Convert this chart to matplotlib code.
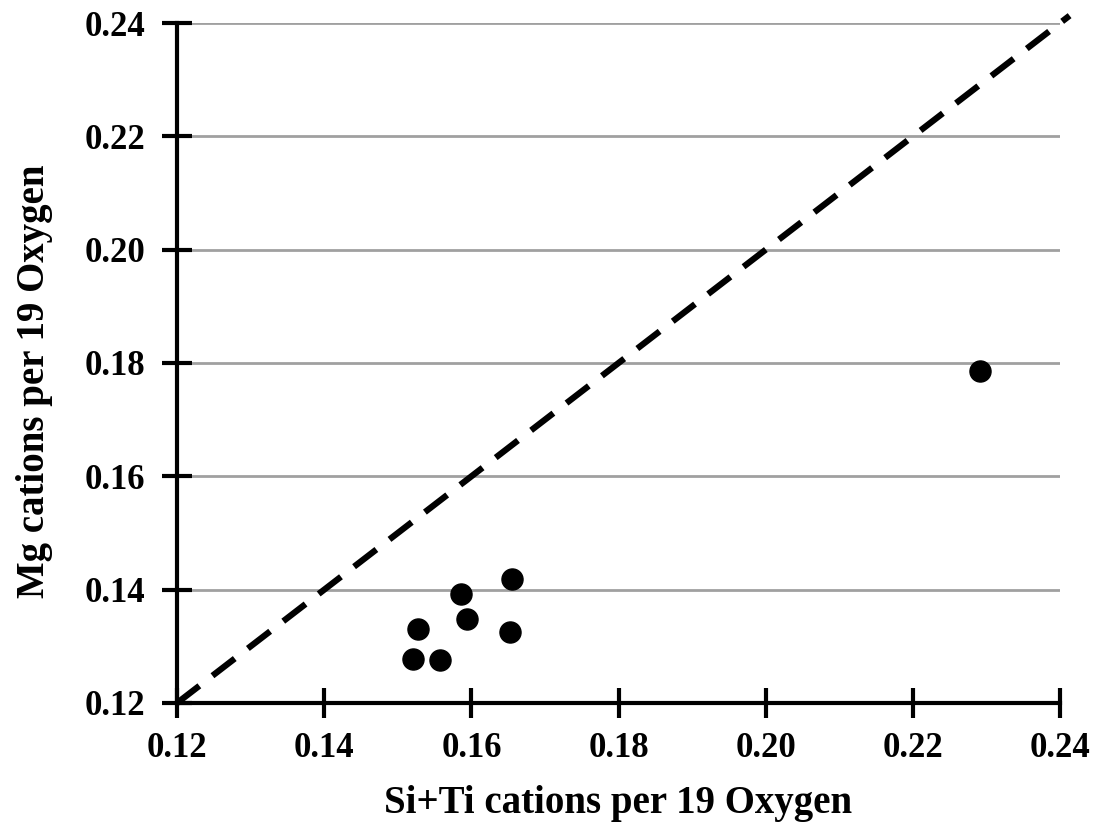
import matplotlib
matplotlib.use("Agg")
import matplotlib.pyplot as plt
import numpy as np

# Data
si_ti = [0.1655, 0.1586, 0.1594, 0.1527, 0.1652, 0.1521, 0.1557, 0.2291]
mg = [0.1418, 0.1392, 0.1348, 0.1331, 0.1326, 0.1278, 0.1275, 0.1786]
one_to_one = [0.12, 0.2413]
ticks = [0.12, 0.14, 0.16, 0.18, 0.20, 0.22, 0.24]

plt.rcParams["font.family"] = "Liberation Serif"
plt.rcParams["font.weight"] = "bold"

fig = plt.figure(figsize=(10.97, 8.25), dpi=100)
ax = fig.add_axes([0.1614, 0.1479, 0.8049, 0.8242])

# horizontal gridlines
ax.grid(axis="y", color="#a0a0a0", linewidth=2)
ax.set_axisbelow(True)

# 1:1 line
ax.plot(one_to_one, one_to_one, color="black", linestyle=(0, (4.5, 2.65)), linewidth=4.5, clip_on=False)

ax.scatter(si_ti, mg, s=230, color="black", zorder=3)

ax.set_xlim(0.12, 0.24)
ax.set_ylim(0.12, 0.24)
ax.set_xticks(ticks)
ax.set_yticks(ticks)
ax.set_xticklabels([f"{t:.2f}" for t in ticks], fontsize=25, fontweight="bold")
ax.set_yticklabels([f"{t:.2f}" for t in ticks], fontsize=25, fontweight="bold")
ax.tick_params(direction="inout", length=22, width=3)
ax.tick_params(axis="x", pad=10)
ax.tick_params(axis="y", pad=12)

for side in ["top", "right"]:
    ax.spines[side].set_visible(False)
for side in ["left", "bottom"]:
    ax.spines[side].set_linewidth(3)

ax.set_xlabel("Si+Ti cations per 19 Oxygen", fontsize=28, fontweight="bold", labelpad=14)
ax.set_ylabel("Mg cations per 19 Oxygen", fontsize=28, fontweight="bold")
ax.yaxis.set_label_coords(-0.141, 0.4735)

fig.savefig("out.png", dpi=100)
